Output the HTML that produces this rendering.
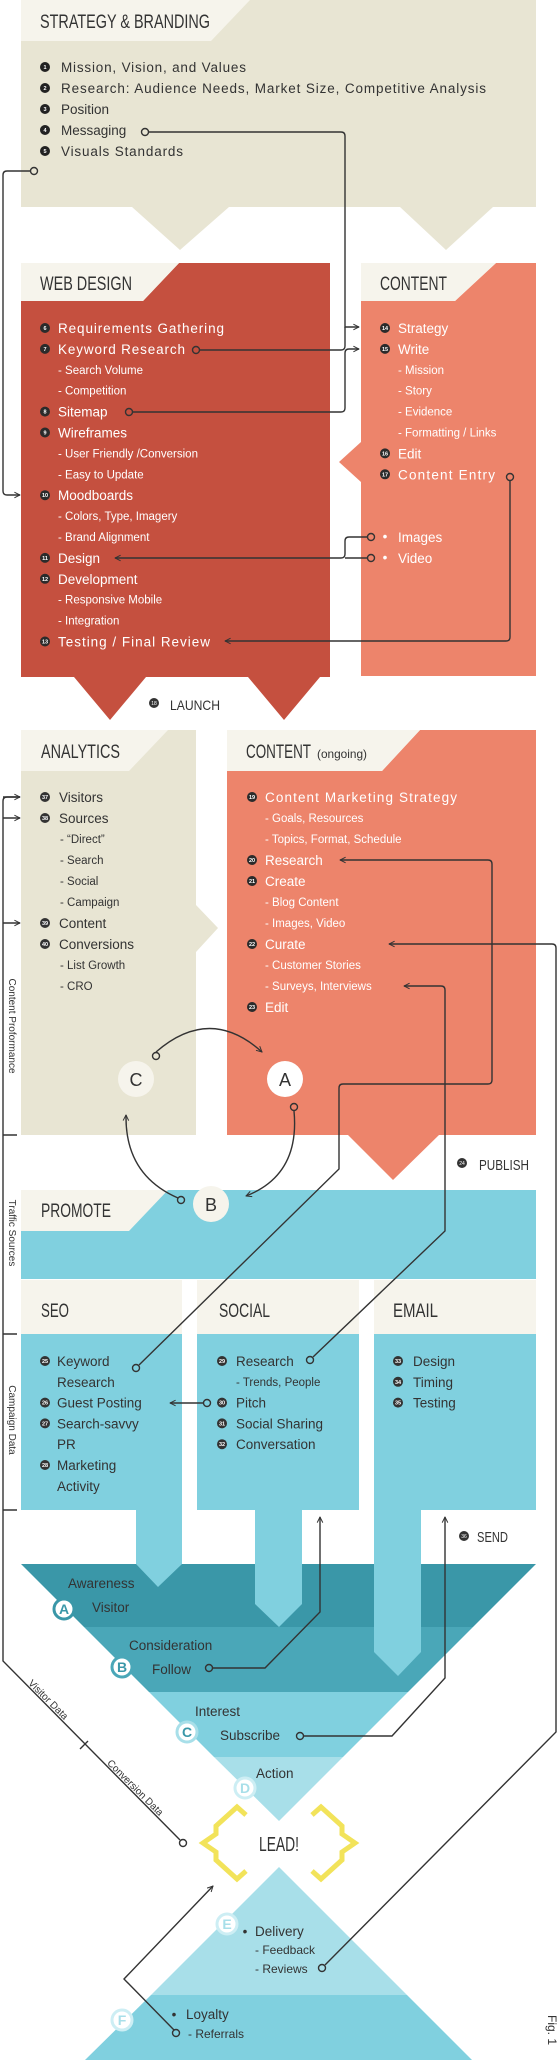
<!DOCTYPE html>
<html><head><meta charset="utf-8"><style>
html,body{margin:0;padding:0;background:#fff}
svg{display:block}
text{font-family:"Liberation Sans",sans-serif}
.h{font-size:19px;fill:#333;}
.m{font-size:13.5px}
.s{font-size:11.5px}
</style></head><body>
<svg id="root" width="559" height="2060" viewBox="0 0 559 2060" xmlns="http://www.w3.org/2000/svg">
<defs>
<marker id="ar" viewBox="0 0 10 10" refX="9" refY="5" markerWidth="7" markerHeight="7" orient="auto-start-reverse" markerUnits="userSpaceOnUse"><path d="M1,1 L9,5 L1,9" fill="none" stroke="#333" stroke-width="1.4"/></marker>
</defs>

<!-- STRATEGY -->
<g>
<path d="M21,0 H536 V207 H493 L446,250 L400,207 H229 L180,250 L132,207 H21 Z" fill="#e8e5d3"/>
<path d="M21,0 H250 L211,41 H21 Z" fill="#f6f4ec"/>
<text class="h" x="40" y="28" textLength="170" lengthAdjust="spacingAndGlyphs">STRATEGY &amp; BRANDING</text>
</g>

<!-- WEB DESIGN -->
<g>
<path d="M21,263 H330 V677 H284 L284,677 Z" fill="none"/>
<path d="M179,263 H330 V677 H320 L284,720 L248,677 H146 L110,720 L74,677 H21 V301 H143 Z" fill="#c5503f"/>
<path d="M21,263 H179 L143,301 H21 Z" fill="#f6f4ec"/>
<text class="h" x="40" y="290" textLength="92" lengthAdjust="spacingAndGlyphs">WEB DESIGN</text>
</g>

<!-- CONTENT -->
<g>
<path d="M496,263 H536 V676 H361 V482 L339,462 L361,442 V301 H455 Z" fill="#ed846b"/>
<path d="M361,263 H496 L455,301 H361 Z" fill="#f6f4ec"/>
<text class="h" x="380" y="290" textLength="67" lengthAdjust="spacingAndGlyphs">CONTENT</text>
</g>

<g>
<circle cx="154" cy="703" r="5" fill="#333"/><text x="154" y="705" font-size="5" fill="#fff" text-anchor="middle">18</text>
<text class="h" x="170" y="710" font-size="14" style="font-size:14px" textLength="50" lengthAdjust="spacingAndGlyphs">LAUNCH</text>
</g>

<!-- ANALYTICS -->
<g>
<path d="M21,730 H196 V905 L218,928 L196,952 V1135 H21 Z" fill="#e8e5d3"/>
<path d="M21,730 H168 L129,771 H21 Z" fill="#f6f4ec"/>
<text class="h" x="41" y="758" textLength="79" lengthAdjust="spacingAndGlyphs">ANALYTICS</text>
</g>

<!-- CONTENT ONGOING -->
<g>
<path d="M420,730 H536 V1135 H439 L393,1180 L348,1135 H227 V771 H382 Z" fill="#ed846b"/>
<path d="M227,730 H420 L382,771 H227 Z" fill="#f6f4ec"/>
<text class="h" x="246" y="758" textLength="65" lengthAdjust="spacingAndGlyphs">CONTENT</text>
<text x="317" y="758" font-size="12" fill="#333" textLength="50" lengthAdjust="spacingAndGlyphs">(ongoing)</text>
</g>

<g>
<circle cx="462" cy="1163" r="5" fill="#333"/><text x="462" y="1165" font-size="5" fill="#fff" text-anchor="middle">24</text>
<text x="479" y="1170" font-size="15" fill="#333" textLength="50" lengthAdjust="spacingAndGlyphs">PUBLISH</text>
</g>

<!-- PROMOTE -->
<g>
<rect x="21" y="1190" width="515" height="89" fill="#80d0df"/>
<path d="M21,1190 H168 L129,1231 H21 Z" fill="#f6f4ec"/>
<text class="h" x="41" y="1217" textLength="70" lengthAdjust="spacingAndGlyphs">PROMOTE</text>
</g>

<!-- SEO / SOCIAL / EMAIL -->
<g>
<rect x="21" y="1280" width="161" height="54" fill="#f6f4ec"/>
<rect x="21" y="1334" width="161" height="176" fill="#80d0df"/>
<text class="h" x="41" y="1317" textLength="28" lengthAdjust="spacingAndGlyphs">SEO</text>
</g>
<g>
<rect x="197" y="1280" width="162" height="54" fill="#f6f4ec"/>
<rect x="197" y="1334" width="162" height="176" fill="#80d0df"/>
<text class="h" x="219" y="1317" textLength="51" lengthAdjust="spacingAndGlyphs">SOCIAL</text>
</g>
<g>
<rect x="374" y="1280" width="162" height="54" fill="#f6f4ec"/>
<rect x="374" y="1334" width="162" height="176" fill="#80d0df"/>
<text class="h" x="393" y="1317" textLength="45" lengthAdjust="spacingAndGlyphs">EMAIL</text>
</g>

<!-- FUNNEL -->
<g>
<path d="M21,1564 H536 L473,1627 H84 Z" fill="#3a97a8"/>
<path d="M84,1627 H473 L408,1692 H149 Z" fill="#4aa7b8"/>
<path d="M149,1692 H408 L343,1757 H214 Z" fill="#80d0df"/>
<path d="M214,1757 H343 L279,1821 Z" fill="#a8dfe9"/>
</g>
<g fill="#80d0df">
<path d="M136,1510 H182 V1564 L158,1587 L136,1564 Z"/>
<path d="M255,1510 H302 V1604 L279,1627 L255,1604 Z"/>
<path d="M374,1510 H421 V1652 L398,1676 L374,1652 Z"/>
</g>

<g>
<circle cx="464" cy="1536" r="5" fill="#333"/><text x="464" y="1538" font-size="5" fill="#fff" text-anchor="middle">36</text>
<text x="477" y="1542" font-size="15" fill="#333" textLength="31" lengthAdjust="spacingAndGlyphs">SEND</text>
</g>

<!-- LOWER PYRAMID -->
<g>
<path d="M279,1867 L407,1995 H151 Z" fill="#a8dfe9"/>
<path d="M151,1995 H407 L472,2060 H85 Z" fill="#80d0df"/>
</g>

<g fill="none" stroke="#f2e35a" stroke-width="5" stroke-linejoin="miter">
<polyline points="246,1815 237,1807 216,1826 216,1834 203,1843 216,1852 216,1860 237,1879 246,1871"/>
<polyline points="312,1815 321,1807 342,1826 342,1834 355,1843 342,1852 342,1860 321,1879 312,1871"/>
</g>
<text x="279" y="1851" text-anchor="middle" font-size="20" fill="#333" textLength="40" lengthAdjust="spacingAndGlyphs">LEAD!</text>

<g id="lists"></g>
<g id="stages"></g>

<!-- CONNECTORS -->
<g fill="none" stroke="#333" stroke-width="1.4">
<path d="M149,132 H341 Q345,132 345,136 V327 H359" marker-end="url(#ar)"/>
<path d="M200,350 H341 Q345,350 345,346 V327"/>
<path d="M133,412 H341 Q345,412 345,408 V353 Q345,349 349,349 H359" marker-end="url(#ar)"/>
<path d="M30,171 H7 Q3,171 3,175 V491 Q3,495 7,495 H20" marker-end="url(#ar)"/>
<path d="M510,481 V637 Q510,641 506,641 H225" marker-end="url(#ar)"/>
<path d="M367,537 H349 Q345,537 345,541 V554 Q345,558 341,558 H115" marker-end="url(#ar)"/>
<path d="M367,558 H345"/>
<!-- C -> A -->
<path d="M156,1052 Q210,1005 262,1052" marker-end="url(#ar)"/>
<!-- A -> B -->
<path d="M294,1111 Q300,1175 246,1196" marker-end="url(#ar)"/>
<!-- B -> C -->
<path d="M178,1198 Q125,1175 126,1115" marker-end="url(#ar)"/>
<!-- SEO keyword -> research -->
<path d="M139,1365 L339,1169 V1088 Q339,1084 343,1084 H488 Q492,1084 492,1080 V864 Q492,860 488,860 H340" marker-end="url(#ar)"/>
<!-- social research -> surveys -->
<path d="M313,1357 L445,1231 V990 Q445,986 441,986 H404" marker-end="url(#ar)"/>
<!-- pitch -> guest posting -->
<path d="M204,1403 H170" marker-end="url(#ar)"/>
<!-- curate / reviews -->
<path d="M325,1965 L556,1732 V948 Q556,944 552,944 H389" marker-end="url(#ar)"/>
<!-- follow -->
<path d="M212,1668 H265 L320,1612 V1517" marker-end="url(#ar)"/>
<!-- subscribe -->
<path d="M304,1736 H392 L445,1678 V1517" marker-end="url(#ar)"/>
<!-- referrals -->
<path d="M174,2030 L124,1979 L213,1886" marker-end="url(#ar)"/>
<!-- left data line -->
<path d="M20,797 H7 Q3,797 3,801 V1661 L180,1840"/>
<path d="M3,818 H20" marker-end="url(#ar)"/>
<path d="M3,923 H20" marker-end="url(#ar)"/>
<path d="M3,797 H20" marker-end="url(#ar)"/>
<path d="M3,1135 H17 M3,1334 H17 M3,1510 H17 M80,1749 L88,1741"/>
</g>
<g fill="#fff" fill-opacity="0" stroke="#333" stroke-width="1.4">
<circle cx="145" cy="132" r="3.5"/><circle cx="196" cy="350" r="3.5"/><circle cx="129" cy="412" r="3.5"/>
<circle cx="34" cy="171" r="3.5"/><circle cx="510" cy="477" r="3.5"/><circle cx="371" cy="537" r="3.5"/><circle cx="371" cy="558" r="3.5"/>
<circle cx="156" cy="1056" r="3.5"/><circle cx="294" cy="1107" r="3.5"/><circle cx="181" cy="1200" r="3.5"/>
<circle cx="136" cy="1368" r="3.5"/><circle cx="310" cy="1360" r="3.5"/><circle cx="207" cy="1403" r="3.5"/>
<circle cx="209" cy="1668" r="3.5"/><circle cx="300" cy="1736" r="3.5"/><circle cx="322" cy="1968" r="3.5"/>
<circle cx="176" cy="2033" r="3.5"/><circle cx="183" cy="1843" r="3.5"/>
</g>

<g>
<circle cx="136" cy="1079" r="18" fill="#f6f4ec"/><text x="136" y="1086" text-anchor="middle" font-size="18" fill="#333">C</text>
<circle cx="285" cy="1079" r="18" fill="#fff"/><text x="285" y="1086" text-anchor="middle" font-size="18" fill="#333">A</text>
<circle cx="211" cy="1204" r="18" fill="#f6f4ec"/><text x="211" y="1211" text-anchor="middle" font-size="18" fill="#333">B</text>
</g>

<g font-size="10" fill="#333">
<text transform="translate(9,1026) rotate(90)" text-anchor="middle">Content Proformance</text>
<text transform="translate(9,1233) rotate(90)" text-anchor="middle">Traffic Sources</text>
<text transform="translate(9,1420) rotate(90)" text-anchor="middle">Campaign Data</text>
<text transform="translate(46,1702) rotate(45)" text-anchor="middle">Visitor Data</text>
<text transform="translate(133,1790) rotate(45)" text-anchor="middle">Conversion Data</text>
<text transform="translate(548,2030) rotate(90)" text-anchor="middle" font-size="12">Fig. 1</text>
</g>
</svg>
<script>
var NS='http://www.w3.org/2000/svg';
var lists=document.getElementById('lists');
function txt(x,y,s,cls,fill,anchor){var t=document.createElementNS(NS,'text');t.setAttribute('x',x);t.setAttribute('y',y);t.setAttribute('class',cls);t.setAttribute('fill',fill);if(anchor)t.setAttribute('text-anchor',anchor);t.textContent=s;return t;}
function list(name,items,bx,tx,sx,y0,dy,fill,bfill,nfill){
  var g=document.createElementNS(NS,'g');
  
  
  items.forEach(function(it,i){
    var y=y0+dy*i;
    if(it[1]===null)return;
    if(it[0]==='sub'){var t=txt(sx,y+4,'- '+it[1],'s',fill);
      
      
      g.appendChild(t);return;}
    if(it[0]==='dot'){var d=txt(bx,y+4,'•','m',fill,'middle');g.appendChild(d);}
    else if(it[0]!==''){var c=document.createElementNS(NS,'circle');c.setAttribute('cx',bx);c.setAttribute('cy',y);c.setAttribute('r',5);c.setAttribute('fill',bfill);g.appendChild(c);
      var n=txt(bx,y+2,it[0],'',nfill,'middle');n.setAttribute('font-size','5.5');n.setAttribute('font-weight','bold');g.appendChild(n);}
    var t2=txt(tx,y+5,it[1],'m',fill);
    
    
    if(it[2])t2.setAttribute('textLength',it[2]);
    g.appendChild(t2);
  });
  lists.appendChild(g);
}
var strategyItems=[['1','Mission, Vision, and Values',185],['2','Research: Audience Needs, Market Size, Competitive Analysis',425],['3','Position'],['4','Messaging'],['5','Visuals Standards',122]];
list('strategy-list',strategyItems,45,61,61,67,21,'#333','#222','#fff');
var webItems=[['6','Requirements Gathering',166],['7','Keyword Research',127],['sub','Search Volume'],['sub','Competition'],['8','Sitemap'],['9','Wireframes'],['sub','User Friendly /Conversion'],['sub','Easy to Update'],['10','Moodboards'],['sub','Colors, Type, Imagery'],['sub','Brand Alignment'],['11','Design'],['12','Development'],['sub','Responsive Mobile'],['sub','Integration'],['13','Testing / Final Review',152]];
list('web-design-list',webItems,45,58,58,328,20.9,'#fff','#2b2b2b','#fff');
var contentItems=[['14','Strategy'],['15','Write'],['sub','Mission'],['sub','Story'],['sub','Evidence'],['sub','Formatting / Links'],['16','Edit'],['17','Content Entry',97],['',null],['',null],['dot','Images'],['dot','Video']];
list('content-list',contentItems,385,398,398,328,20.9,'#fff','#2b2b2b','#fff');
var analyticsItems=[['37','Visitors'],['38','Sources'],['sub','“Direct”'],['sub','Search'],['sub','Social'],['sub','Campaign'],['39','Content'],['40','Conversions'],['sub','List Growth'],['sub','CRO']];
list('analytics-list',analyticsItems,45,59,60,797,21,'#333','#333','#fff');
var ongoingItems=[['19','Content Marketing Strategy',192],['sub','Goals, Resources'],['sub','Topics, Format, Schedule'],['20','Research'],['21','Create'],['sub','Blog Content'],['sub','Images, Video'],['22','Curate'],['sub','Customer Stories'],['sub','Surveys, Interviews'],['23','Edit']];
list('content-ongoing-list',ongoingItems,252,265,265,797,21,'#fff','#2b2b2b','#fff');
var seoItems=[['25','Keyword'],['','Research'],['26','Guest Posting'],['27','Search-savvy'],['','PR'],['28','Marketing'],['','Activity']];
list('seo-list',seoItems,45,57,57,1361,20.8,'#333','#333','#fff');
var socialItems=[['29','Research'],['sub','Trends, People'],['30','Pitch'],['31','Social Sharing'],['32','Conversation']];
list('social-list',socialItems,222,236,236,1361,20.8,'#333','#333','#fff');
var emailItems=[['33','Design'],['34','Timing'],['35','Testing']];
list('email-list',emailItems,398,413,413,1361,20.8,'#333','#333','#fff');

var stages=document.getElementById('stages');
var stageLetters=['A','B','C','D','E','F'];
var stageX=[64,122,187,245,227,122];
var stageY=[1609,1667,1732,1788,1924,2020];
var stageRing=['#3a97a8','#4aa7b8','#a8dfe9','#cdeef4','#cdeef4','#cdeef4'];
stageLetters.forEach(function(L,i){
  var c=document.createElementNS(NS,'circle');
  
  
  c.setAttribute('cx',stageX[i]);c.setAttribute('cy',stageY[i]);c.setAttribute('r',10);c.setAttribute('fill','#fff');c.setAttribute('stroke',stageRing[i]);c.setAttribute('stroke-width',3);
  stages.appendChild(c);
  var t=txt(stageX[i],stageY[i]+5,L,'',stageRing[i]==='#cdeef4'?'#a8dfe9':'#3a97a8','middle');t.setAttribute('font-size','14');t.setAttribute('font-weight','bold');
  stages.appendChild(t);
});
var stageLabels=['Awareness','Visitor','Consideration','Follow','Interest','Subscribe','Action','Delivery','- Feedback','- Reviews','Loyalty','- Referrals'];
var labelX=[68,92,129,152,195,220,256,255,255,255,186,188];
var labelY=[1588,1612,1650,1674,1716,1740,1778,1936,1954,1973,2019,2038];
var labelSize=[13.5,13.5,13.5,13.5,13.5,13.5,13.5,13.5,12,12,13.5,12];
stageLabels.forEach(function(s,i){
  var t=txt(labelX[i],labelY[i],s,'', '#333');
  
  
  t.setAttribute('font-size',labelSize[i]);
  stages.appendChild(t);
});
stages.appendChild(txt(245,1936,'•','m','#333','middle'));
stages.appendChild(txt(174,2019,'•','m','#333','middle'));
</script>
</body></html>
